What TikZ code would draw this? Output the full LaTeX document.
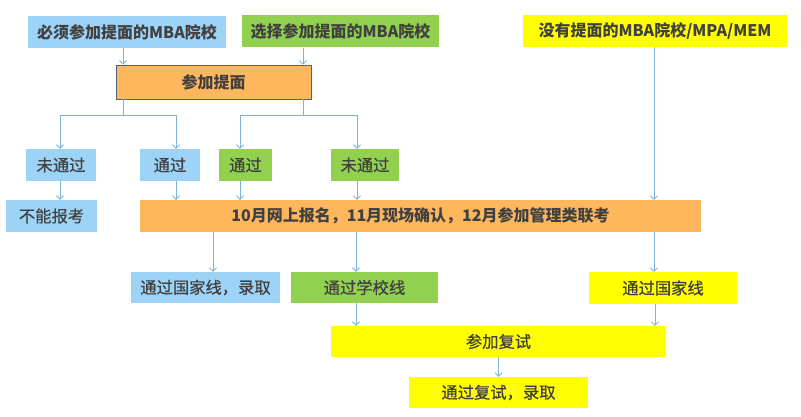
\documentclass[tikz,border=0pt]{standalone}
\usepackage{fontspec}
\setmainfont{Noto Sans CJK SC}
\newfontfamily\medfont{Noto Sans CJK SC}[FakeBold=0.6]
\usetikzlibrary{arrows.meta}
\definecolor{bblue}{HTML}{9DD3F7}
\definecolor{bgreen}{HTML}{92D050}
\definecolor{borange}{HTML}{FFB75E}
\definecolor{byellow}{HTML}{FFFF00}
\definecolor{txt}{HTML}{404040}
\definecolor{lnc}{HTML}{7FB3D9}
\definecolor{obd}{HTML}{4F6470}
\begin{document}
\begin{tikzpicture}[x=1pt,y=-1pt,
  box/.style={inner sep=0pt, minimum height=32pt, font=\fontsize{16.3}{16}\medfont, text=txt, anchor=center},
  bbox/.style={box, font=\fontsize{16}{16}\selectfont\bfseries},
  blue/.style={fill=bblue}, green/.style={fill=bgreen}, orange/.style={fill=borange}, yellow/.style={fill=byellow},
  ln/.style={draw=lnc, line width=0.9pt},
  arr/.style={ln, -{Straight Barb[length=3.5pt,width=7pt]}}]
\useasboundingbox (0,0) rectangle (801,417);
\fill[white] (0,0) rectangle (801,417);
% top row
\node[bbox, blue, minimum width=198pt] (A) at (127,32) {必须参加提面的MBA院校};
\node[bbox, green, minimum width=197pt] (B) at (340.5,31.5) {选择参加提面的MBA院校};
\node[bbox, yellow, minimum width=264pt] (C) at (655,31) {没有提面的MBA院校/MPA/MEM};
\node[bbox, orange, draw=obd, line width=0.8pt, minimum width=195pt, minimum height=34pt] (D) at (213.5,82) {参加提面};
% second row
\node[box, blue, minimum width=70pt] (E1) at (61,165) {未通过};
\node[box, blue, minimum width=60pt] (E2) at (170,165) {通过};
\node[box, green, minimum width=53pt] (E3) at (245.5,165) {通过};
\node[box, green, minimum width=68pt] (E4) at (365,165) {未通过};
% third row
\node[box, blue, minimum width=91pt] (F1) at (51.5,216) {不能报考};
\node[bbox, orange, minimum width=561pt] (F2) at (420.5,216) {10月网上报名，11月现场确认，12月参加管理类联考};
% fourth row
\node[box, blue, minimum width=149pt, minimum height=31pt] (G1) at (205.5,287.5) {通过国家线，录取};
\node[box, green, minimum width=147pt, minimum height=31pt] (G2) at (364.5,287.5) {通过学校线};
\node[box, yellow, minimum width=148pt] (G3) at (663,288) {通过国家线};
% bottom
\node[box, yellow, minimum width=335pt, minimum height=31pt] (H) at (498.5,341.5) {参加复试};
\node[box, yellow, minimum width=179pt, minimum height=31pt] (I) at (498.5,392.5) {通过复试，录取};
% branch points
\coordinate (d1) at (123,115);
\coordinate (d2) at (303,115);
% connectors
\draw[arr] ([xshift=-4pt]A.south) -- ([xshift=-4pt]A.south |- D.north);
\draw[arr] ([xshift=-37.5pt]B.south) -- ([xshift=-37.5pt]B.south |- D.north);
\draw[ln] (D.south -| d1) -- (d1);
\draw[ln] (D.south -| d2) -- (d2);
\draw[arr] (d1) -| ([xshift=-1pt]E1.north);
\draw[arr] (d1) -| ([xshift=6pt]E2.north);
\draw[arr] (d2) -| ([xshift=-5.5pt]E3.north);
\draw[arr] (d2) -| ([xshift=-8pt]E4.north);
\draw[arr] ([xshift=-1pt]E1.south) -- ([xshift=-1pt]E1.south |- F1.north);
\draw[arr] ([xshift=6pt]E2.south) -- ([xshift=6pt]E2.south |- F2.north);
\draw[arr] ([xshift=-5.5pt]E3.south) -- ([xshift=-5.5pt]E3.south |- F2.north);
\draw[arr] ([xshift=-8pt]E4.south) -- ([xshift=-8pt]E4.south |- F2.north);
\draw[arr] ([xshift=-1pt]C.south) -- ([xshift=-1pt]C.south |- F2.north);
\draw[arr] ([xshift=7.5pt]G1.north |- F2.south) -- ([xshift=7.5pt]G1.north);
\draw[arr] ([xshift=-8.5pt]G2.north |- F2.south) -- ([xshift=-8.5pt]G2.north);
\draw[arr] ([xshift=-9pt]G3.north |- F2.south) -- ([xshift=-9pt]G3.north);
\draw[arr] ([xshift=-8.5pt]G2.south) -- ([xshift=-8.5pt]G2.south |- H.north);
\draw[arr] ([xshift=-8pt]G3.south) -- ([xshift=-8pt]G3.south |- H.north);
\draw[arr] (H.south) -- (I.north);
\end{tikzpicture}
\end{document}
